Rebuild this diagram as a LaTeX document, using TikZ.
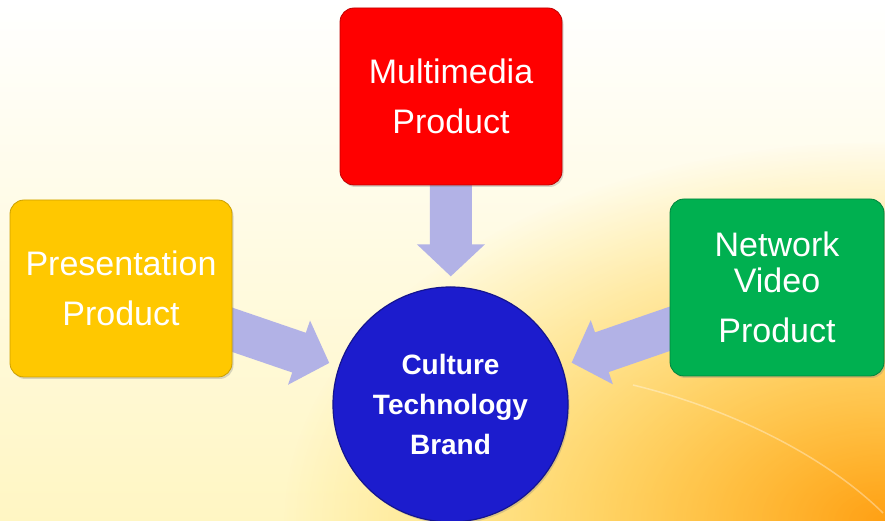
\documentclass[tikz,border=0pt]{standalone}
\usepackage{fontspec}
\setmainfont{Liberation Sans}
\usetikzlibrary{arrows.meta,shadows,calc,fadings}

\definecolor{boxred}{RGB}{255,0,0}
\definecolor{boxyellow}{RGB}{255,200,0}
\definecolor{boxgreen}{RGB}{0,176,80}
\definecolor{hubblue}{RGB}{28,28,205}
\definecolor{arrowlav}{RGB}{178,178,230}
\definecolor{paperA}{RGB}{255,253,240}
\definecolor{paperB}{RGB}{255,246,195}
\definecolor{glowA}{RGB}{255,160,20}
\definecolor{glowB}{RGB}{255,200,10}
\definecolor{glowC}{RGB}{255,213,50}
\definecolor{glowD}{RGB}{255,220,80}

\pgfdeclareradialshading{warmglow}{\pgfpoint{0bp}{0bp}}{color(0bp)=(glowA); color(24bp)=(glowB); color(38bp)=(glowC); color(50bp)=(glowD)}
\tikzfading[name=glowfade, inner color=transparent!0, outer color=transparent!100]

\pgfdeclarelayer{bg}
\pgfdeclarelayer{behind}
\pgfsetlayers{bg,behind,main}

\begin{document}
\begin{tikzpicture}[x=1pt, y=1pt]

    \tikzstyle{card} = [rectangle, rounded corners=14pt, minimum width=222pt, minimum height=177pt, inner sep=0pt, line width=0.8pt, text=white, align=center, font=\fontsize{34}{50}\selectfont, drop shadow={shadow xshift=1.5pt, shadow yshift=-2pt, opacity=0.3}]
    \tikzstyle{hubdisk} = [circle, minimum size=235pt, inner sep=0pt, fill=hubblue, draw=hubblue!70!black, line width=1.2pt, text=white, align=center, font=\fontsize{28}{40}\selectfont\bfseries, drop shadow={shadow xshift=1.5pt, shadow yshift=-2pt, opacity=0.3}]
    \tikzstyle{feed} = [draw=arrowlav, line width=42pt, -{Triangle[length=32pt, width=66pt]}, shorten >=10pt]

    \useasboundingbox (0,0) rectangle (885,521);

    % boxes and hub
    \node[card, fill=boxred, draw=boxred!75!black] (multi) at (451,424.5) {Multimedia\\Product};
    \node[card, fill=boxyellow, draw=boxyellow!80!black] (present) at (121,232.5) {Presentation\\Product};
    \node[card, fill=boxgreen, draw=boxgreen!75!black, minimum width=214pt] (network) at (777,233.5) {Network\\[-14pt]Video\\Product};
    \node[hubdisk] (hub) at (450.5,116.5) {Culture\\Technology\\Brand};

    \coordinate (multi-out) at ($(multi.south)+(0,10)$);
    \coordinate (present-out) at ($(present.south east)+(-10,51)$);
    \coordinate (network-out) at ($(network.south west)+(10,51)$);

    % arrows
    \begin{pgfonlayer}{behind}
        \draw[feed] (multi-out) -- (hub);
        \draw[feed] (present-out) -- (hub);
        \draw[feed] (network-out) -- (hub);
    \end{pgfonlayer}

    % background
    \begin{pgfonlayer}{bg}
        \shade[top color=white, middle color=paperA, bottom color=paperB] (0,0) rectangle (885,521);
        \begin{scope}
            \clip (0,0) rectangle (885,521);
            \shade[shading=warmglow, path fading=glowfade] (885,0) ellipse [x radius=600, y radius=380];
            \draw[white, opacity=0.35, line width=1.5pt] (633,136) .. controls (720,115) and (820,70) .. (883,8);
        \end{scope}
    \end{pgfonlayer}
\end{tikzpicture}
\end{document}
